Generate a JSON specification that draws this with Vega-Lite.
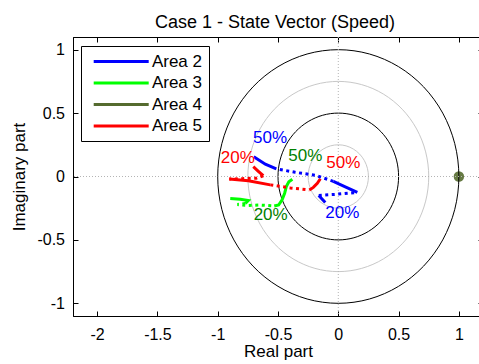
{
  "$schema": "https://vega.github.io/schema/vega-lite/v6.json",
  "width": 410,
  "height": 279,
  "autosize": {"type": "none"},
  "padding": {"left": 73, "top": 37, "right": 0, "bottom": 48},
  "title": {
    "text": "Case 1 - State Vector (Speed)",
    "fontSize": 18,
    "fontWeight": "normal",
    "color": "black",
    "anchor": "middle",
    "baseline": "alphabetic",
    "offset": 12,
    "dx": -3,
    "dy": 21
  },
  "config": {
    "font": "Liberation Sans",
    "view": {"stroke": "black", "strokeWidth": 1},
    "axis": {
      "grid": false,
      "domainColor": "black",
      "tickColor": "black",
      "tickSize": -5,
      "labelColor": "black",
      "labelFontSize": 16,
      "titleColor": "black",
      "titleFontSize": 17,
      "titleFontWeight": "normal"
    },
    "legend": {
      "orient": "none",
      "legendX": 8,
      "legendY": 9,
      "symbolType": "M-5.5,0H5.5",
      "symbolSize": 100,
      "symbolStrokeWidth": 3,
      "labelFontSize": 17,
      "labelColor": "black",
      "labelExpr": "datum.label + '\u00a0\u00a0'",
      "fillColor": "white",
      "strokeColor": "black",
      "padding": 7,
      "rowPadding": 3.5,
      "labelOffset": 22.2,
      "symbolOffset": 24.7
    }
  },
  "datasets": {
    "rings": [
      {"r": 1, "k": 0, "x": 1, "y": 0}, {"r": 1, "k": 1, "x": 0.9659, "y": 0.2588}, {"r": 1, "k": 2, "x": 0.866, "y": 0.5}, {"r": 1, "k": 3, "x": 0.7071, "y": 0.7071},
      {"r": 1, "k": 4, "x": 0.5, "y": 0.866}, {"r": 1, "k": 5, "x": 0.2588, "y": 0.9659}, {"r": 1, "k": 6, "x": 0, "y": 1}, {"r": 1, "k": 7, "x": -0.2588, "y": 0.9659},
      {"r": 1, "k": 8, "x": -0.5, "y": 0.866}, {"r": 1, "k": 9, "x": -0.7071, "y": 0.7071}, {"r": 1, "k": 10, "x": -0.866, "y": 0.5}, {"r": 1, "k": 11, "x": -0.9659, "y": 0.2588},
      {"r": 1, "k": 12, "x": -1, "y": 0}, {"r": 1, "k": 13, "x": -0.9659, "y": -0.2588}, {"r": 1, "k": 14, "x": -0.866, "y": -0.5}, {"r": 1, "k": 15, "x": -0.7071, "y": -0.7071},
      {"r": 1, "k": 16, "x": -0.5, "y": -0.866}, {"r": 1, "k": 17, "x": -0.2588, "y": -0.9659}, {"r": 1, "k": 18, "x": 0, "y": -1}, {"r": 1, "k": 19, "x": 0.2588, "y": -0.9659},
      {"r": 1, "k": 20, "x": 0.5, "y": -0.866}, {"r": 1, "k": 21, "x": 0.7071, "y": -0.7071}, {"r": 1, "k": 22, "x": 0.866, "y": -0.5}, {"r": 1, "k": 23, "x": 0.9659, "y": -0.2588},

      {"r": 0.75, "k": 0, "x": 0.75, "y": 0}, {"r": 0.75, "k": 1, "x": 0.7244, "y": 0.1941}, {"r": 0.75, "k": 2, "x": 0.6495, "y": 0.375}, {"r": 0.75, "k": 3, "x": 0.5303, "y": 0.5303},
      {"r": 0.75, "k": 4, "x": 0.375, "y": 0.6495}, {"r": 0.75, "k": 5, "x": 0.1941, "y": 0.7244}, {"r": 0.75, "k": 6, "x": 0, "y": 0.75}, {"r": 0.75, "k": 7, "x": -0.1941, "y": 0.7244},
      {"r": 0.75, "k": 8, "x": -0.375, "y": 0.6495}, {"r": 0.75, "k": 9, "x": -0.5303, "y": 0.5303}, {"r": 0.75, "k": 10, "x": -0.6495, "y": 0.375}, {"r": 0.75, "k": 11, "x": -0.7244, "y": 0.1941},
      {"r": 0.75, "k": 12, "x": -0.75, "y": 0}, {"r": 0.75, "k": 13, "x": -0.7244, "y": -0.1941}, {"r": 0.75, "k": 14, "x": -0.6495, "y": -0.375}, {"r": 0.75, "k": 15, "x": -0.5303, "y": -0.5303},
      {"r": 0.75, "k": 16, "x": -0.375, "y": -0.6495}, {"r": 0.75, "k": 17, "x": -0.1941, "y": -0.7244}, {"r": 0.75, "k": 18, "x": 0, "y": -0.75}, {"r": 0.75, "k": 19, "x": 0.1941, "y": -0.7244},
      {"r": 0.75, "k": 20, "x": 0.375, "y": -0.6495}, {"r": 0.75, "k": 21, "x": 0.5303, "y": -0.5303}, {"r": 0.75, "k": 22, "x": 0.6495, "y": -0.375}, {"r": 0.75, "k": 23, "x": 0.7244, "y": -0.1941},

      {"r": 0.5, "k": 0, "x": 0.5, "y": 0}, {"r": 0.5, "k": 1, "x": 0.483, "y": 0.1294}, {"r": 0.5, "k": 2, "x": 0.433, "y": 0.25}, {"r": 0.5, "k": 3, "x": 0.3536, "y": 0.3536},
      {"r": 0.5, "k": 4, "x": 0.25, "y": 0.433}, {"r": 0.5, "k": 5, "x": 0.1294, "y": 0.483}, {"r": 0.5, "k": 6, "x": 0, "y": 0.5}, {"r": 0.5, "k": 7, "x": -0.1294, "y": 0.483},
      {"r": 0.5, "k": 8, "x": -0.25, "y": 0.433}, {"r": 0.5, "k": 9, "x": -0.3536, "y": 0.3536}, {"r": 0.5, "k": 10, "x": -0.433, "y": 0.25}, {"r": 0.5, "k": 11, "x": -0.483, "y": 0.1294},
      {"r": 0.5, "k": 12, "x": -0.5, "y": 0}, {"r": 0.5, "k": 13, "x": -0.483, "y": -0.1294}, {"r": 0.5, "k": 14, "x": -0.433, "y": -0.25}, {"r": 0.5, "k": 15, "x": -0.3536, "y": -0.3536},
      {"r": 0.5, "k": 16, "x": -0.25, "y": -0.433}, {"r": 0.5, "k": 17, "x": -0.1294, "y": -0.483}, {"r": 0.5, "k": 18, "x": 0, "y": -0.5}, {"r": 0.5, "k": 19, "x": 0.1294, "y": -0.483},
      {"r": 0.5, "k": 20, "x": 0.25, "y": -0.433}, {"r": 0.5, "k": 21, "x": 0.3536, "y": -0.3536}, {"r": 0.5, "k": 22, "x": 0.433, "y": -0.25}, {"r": 0.5, "k": 23, "x": 0.483, "y": -0.1294},

      {"r": 0.25, "k": 0, "x": 0.25, "y": 0}, {"r": 0.25, "k": 1, "x": 0.2415, "y": 0.0647}, {"r": 0.25, "k": 2, "x": 0.2165, "y": 0.125}, {"r": 0.25, "k": 3, "x": 0.1768, "y": 0.1768},
      {"r": 0.25, "k": 4, "x": 0.125, "y": 0.2165}, {"r": 0.25, "k": 5, "x": 0.0647, "y": 0.2415}, {"r": 0.25, "k": 6, "x": 0, "y": 0.25}, {"r": 0.25, "k": 7, "x": -0.0647, "y": 0.2415},
      {"r": 0.25, "k": 8, "x": -0.125, "y": 0.2165}, {"r": 0.25, "k": 9, "x": -0.1768, "y": 0.1768}, {"r": 0.25, "k": 10, "x": -0.2165, "y": 0.125}, {"r": 0.25, "k": 11, "x": -0.2415, "y": 0.0647},
      {"r": 0.25, "k": 12, "x": -0.25, "y": 0}, {"r": 0.25, "k": 13, "x": -0.2415, "y": -0.0647}, {"r": 0.25, "k": 14, "x": -0.2165, "y": -0.125}, {"r": 0.25, "k": 15, "x": -0.1768, "y": -0.1768},
      {"r": 0.25, "k": 16, "x": -0.125, "y": -0.2165}, {"r": 0.25, "k": 17, "x": -0.0647, "y": -0.2415}, {"r": 0.25, "k": 18, "x": 0, "y": -0.25}, {"r": 0.25, "k": 19, "x": 0.0647, "y": -0.2415},
      {"r": 0.25, "k": 20, "x": 0.125, "y": -0.2165}, {"r": 0.25, "k": 21, "x": 0.1768, "y": -0.1768}, {"r": 0.25, "k": 22, "x": 0.2165, "y": -0.125}, {"r": 0.25, "k": 23, "x": 0.2415, "y": -0.0647}
    ],
    "loci": [
      {"area": "Area 2", "piece": 0, "k": 0, "x": -0.108, "y": -0.205},
      {"area": "Area 2", "piece": 0, "k": 1, "x": -0.162, "y": -0.149},
      {"area": "Area 2", "piece": 1, "k": 2, "x": -0.162, "y": -0.149},
      {"area": "Area 2", "piece": 1, "k": 3, "x": -0.025, "y": -0.141},
      {"area": "Area 2", "piece": 1, "k": 4, "x": 0.158, "y": -0.125},
      {"area": "Area 2", "piece": 2, "k": 5, "x": 0.158, "y": -0.125},
      {"area": "Area 2", "piece": 2, "k": 6, "x": 0.058, "y": -0.082},
      {"area": "Area 2", "piece": 2, "k": 7, "x": -0.041, "y": -0.038},
      {"area": "Area 2", "piece": 3, "k": 8, "x": -0.041, "y": -0.038},
      {"area": "Area 2", "piece": 3, "k": 9, "x": -0.191, "y": 0.010},
      {"area": "Area 2", "piece": 3, "k": 10, "x": -0.357, "y": 0.033},
      {"area": "Area 2", "piece": 3, "k": 11, "x": -0.514, "y": 0.061},
      {"area": "Area 2", "piece": 4, "k": 12, "x": -0.514, "y": 0.061},
      {"area": "Area 2", "piece": 4, "k": 13, "x": -0.605, "y": 0.097},
      {"area": "Area 2", "piece": 4, "k": 14, "x": -0.701, "y": 0.156},

      {"area": "Area 3", "piece": 0, "k": 0, "x": -0.896, "y": -0.173},
      {"area": "Area 3", "piece": 0, "k": 1, "x": -0.813, "y": -0.179},
      {"area": "Area 3", "piece": 0, "k": 2, "x": -0.746, "y": -0.189},
      {"area": "Area 3", "piece": 0, "k": 3, "x": -0.771, "y": -0.213},
      {"area": "Area 3", "piece": 1, "k": 4, "x": -0.771, "y": -0.213},
      {"area": "Area 3", "piece": 1, "k": 5, "x": -0.837, "y": -0.221},
      {"area": "Area 3", "piece": 1, "k": 6, "x": -0.755, "y": -0.229},
      {"area": "Area 3", "piece": 1, "k": 7, "x": -0.647, "y": -0.225},
      {"area": "Area 3", "piece": 1, "k": 8, "x": -0.531, "y": -0.233},
      {"area": "Area 3", "piece": 2, "k": 9, "x": -0.531, "y": -0.233},
      {"area": "Area 3", "piece": 2, "k": 10, "x": -0.495, "y": -0.225},
      {"area": "Area 3", "piece": 2, "k": 11, "x": -0.467, "y": -0.185},
      {"area": "Area 3", "piece": 2, "k": 12, "x": -0.445, "y": -0.132},
      {"area": "Area 3", "piece": 2, "k": 13, "x": -0.431, "y": -0.079},
      {"area": "Area 3", "piece": 2, "k": 14, "x": -0.410, "y": -0.042},
      {"area": "Area 3", "piece": 2, "k": 15, "x": -0.381, "y": -0.022},

      {"area": "Area 5", "piece": 0, "k": 0, "x": -0.705, "y": 0.077},
      {"area": "Area 5", "piece": 0, "k": 1, "x": -0.663, "y": 0.041},
      {"area": "Area 5", "piece": 0, "k": 2, "x": -0.622, "y": 0.006},
      {"area": "Area 5", "piece": 1, "k": 3, "x": -0.622, "y": 0.006},
      {"area": "Area 5", "piece": 1, "k": 4, "x": -0.680, "y": -0.013},
      {"area": "Area 5", "piece": 1, "k": 5, "x": -0.796, "y": -0.017},
      {"area": "Area 5", "piece": 1, "k": 6, "x": -0.904, "y": -0.020},
      {"area": "Area 5", "piece": 2, "k": 7, "x": -0.904, "y": -0.020},
      {"area": "Area 5", "piece": 2, "k": 8, "x": -0.746, "y": -0.034},
      {"area": "Area 5", "piece": 2, "k": 9, "x": -0.564, "y": -0.066},
      {"area": "Area 5", "piece": 3, "k": 10, "x": -0.564, "y": -0.066},
      {"area": "Area 5", "piece": 3, "k": 11, "x": -0.398, "y": -0.090},
      {"area": "Area 5", "piece": 3, "k": 12, "x": -0.240, "y": -0.106},
      {"area": "Area 5", "piece": 4, "k": 13, "x": -0.240, "y": -0.106},
      {"area": "Area 5", "piece": 4, "k": 14, "x": -0.207, "y": -0.086},
      {"area": "Area 5", "piece": 4, "k": 15, "x": -0.174, "y": -0.054},
      {"area": "Area 5", "piece": 4, "k": 16, "x": -0.149, "y": -0.018}
    ],
    "poles": [
      {"area": "Area 4", "x": 1, "y": 0}
    ],
    "tags": [
      {"area": "Area 2", "tag": "50%", "x": -0.566, "y": 0.305},
      {"area": "Area 5", "tag": "20%", "x": -0.833, "y": 0.146},
      {"area": "Area 3", "tag": "50%", "x": -0.274, "y": 0.159},
      {"area": "Area 5", "tag": "50%", "x": 0.041, "y": 0.106},
      {"area": "Area 3", "tag": "20%", "x": -0.561, "y": -0.304},
      {"area": "Area 2", "tag": "20%", "x": 0.033, "y": -0.290}
    ]
  },
  "resolve": {"axis": {"x": "independent", "y": "independent"}},
  "layer": [
    {
      "data": {"name": "poles"},
      "mark": {"type": "circle", "size": 110, "color": "#556b2f", "opacity": 0.9},
      "encoding": {
        "x": {
          "field": "x", "type": "quantitative",
          "scale": {"domain": [-2.2, 1.2], "nice": false, "zero": false},
          "axis": {
            "orient": "bottom",
            "values": [-2, -1.5, -1, -0.5, 0, 0.5, 1],
            "labelExpr": "'' + datum.value",
            "labelPadding": 15,
            "labelFlush": false,
            "title": "Real part",
            "titleY": 40,
            "titleBaseline": "alphabetic"
          }
        },
        "y": {
          "field": "y", "type": "quantitative",
          "scale": {"domain": [-1.1, 1.1], "nice": false, "zero": false},
          "axis": {
            "orient": "left",
            "values": [-1, -0.5, 0, 0.5, 1],
            "labelExpr": "'' + datum.value",
            "labelPadding": 13.5,
            "labelFlush": false,
            "title": "Imaginary part",
            "titleX": -49,
            "titleY": 139.5,
            "titleBaseline": "alphabetic"
          }
        }
      }
    },
    {
      "data": {"name": "rings"},
      "transform": [{"filter": "datum.r == 0.25 || datum.r == 0.75"}],
      "mark": {"type": "line", "interpolate": "cardinal-closed", "stroke": "#c8c8c8", "strokeWidth": 1},
      "encoding": {
        "x": {
          "field": "x", "type": "quantitative",
          "scale": {"domain": [-2.2, 1.2], "nice": false, "zero": false},
          "axis": {"orient": "top", "values": [-2, -1.5, -1, -0.5, 0, 0.5, 1], "labels": false, "title": null}
        },
        "y": {
          "field": "y", "type": "quantitative",
          "scale": {"domain": [-1.1, 1.1], "nice": false, "zero": false},
          "axis": {"orient": "right", "values": [-1, -0.5, 0, 0.5, 1], "labels": false, "title": null}
        },
        "detail": {"field": "r"},
        "order": {"field": "k"}
      }
    },
    {
      "data": {"name": "rings"},
      "transform": [{"filter": "datum.r == 0.5 || datum.r == 1"}],
      "mark": {"type": "line", "interpolate": "cardinal-closed", "stroke": "black", "strokeWidth": 1},
      "encoding": {
        "x": {"field": "x", "type": "quantitative", "scale": {"domain": [-2.2, 1.2], "nice": false, "zero": false}, "axis": null},
        "y": {"field": "y", "type": "quantitative", "scale": {"domain": [-1.1, 1.1], "nice": false, "zero": false}, "axis": null},
        "detail": {"field": "r"},
        "order": {"field": "k"}
      }
    },
    {
      "data": {"values": [{}]},
      "mark": {"type": "rule", "stroke": "#b4b4b4", "strokeWidth": 1, "strokeDash": [1, 2]},
      "encoding": {
        "y": {"datum": 0, "type": "quantitative", "scale": {"domain": [-1.1, 1.1], "nice": false, "zero": false}, "axis": null}
      }
    },
    {
      "data": {"values": [{}]},
      "mark": {"type": "rule", "stroke": "#b4b4b4", "strokeWidth": 1, "strokeDash": [1, 2]},
      "encoding": {
        "x": {"datum": 0, "type": "quantitative", "scale": {"domain": [-2.2, 1.2], "nice": false, "zero": false}, "axis": null}
      }
    },
    {
      "data": {"name": "loci"},
      "transform": [{"filter": "datum.piece % 2 == 0"}],
      "mark": {"type": "line", "strokeWidth": 3},
      "encoding": {
        "x": {"field": "x", "type": "quantitative", "scale": {"domain": [-2.2, 1.2], "nice": false, "zero": false}, "axis": null},
        "y": {"field": "y", "type": "quantitative", "scale": {"domain": [-1.1, 1.1], "nice": false, "zero": false}, "axis": null},
        "color": {
          "field": "area", "type": "nominal", "title": null,
          "scale": {"domain": ["Area 2", "Area 3", "Area 4", "Area 5"], "range": ["#0000ff", "#00ff00", "#556b2f", "#ff0000"]}
        },
        "detail": {"field": "piece"},
        "order": {"field": "k"}
      }
    },
    {
      "data": {"name": "loci"},
      "transform": [{"filter": "datum.piece % 2 == 1"}],
      "mark": {"type": "line", "strokeWidth": 3, "strokeDash": [3, 3.5]},
      "encoding": {
        "x": {"field": "x", "type": "quantitative", "scale": {"domain": [-2.2, 1.2], "nice": false, "zero": false}, "axis": null},
        "y": {"field": "y", "type": "quantitative", "scale": {"domain": [-1.1, 1.1], "nice": false, "zero": false}, "axis": null},
        "color": {
          "field": "area", "type": "nominal", "title": null,
          "scale": {"domain": ["Area 2", "Area 3", "Area 4", "Area 5"], "range": ["#0000ff", "#00ff00", "#556b2f", "#ff0000"]}
        },
        "detail": {"field": "piece"},
        "order": {"field": "k"}
      }
    },
    {
      "data": {"name": "tags"},
      "mark": {"type": "text", "fontSize": 17, "align": "center", "baseline": "middle"},
      "encoding": {
        "x": {"field": "x", "type": "quantitative", "scale": {"domain": [-2.2, 1.2], "nice": false, "zero": false}, "axis": null},
        "y": {"field": "y", "type": "quantitative", "scale": {"domain": [-1.1, 1.1], "nice": false, "zero": false}, "axis": null},
        "text": {"field": "tag"},
        "fill": {
          "field": "area", "type": "nominal", "legend": null,
          "scale": {"domain": ["Area 2", "Area 3", "Area 5"], "range": ["#0000ff", "#008000", "#ff0000"]}
        }
      }
    }
  ]
}
